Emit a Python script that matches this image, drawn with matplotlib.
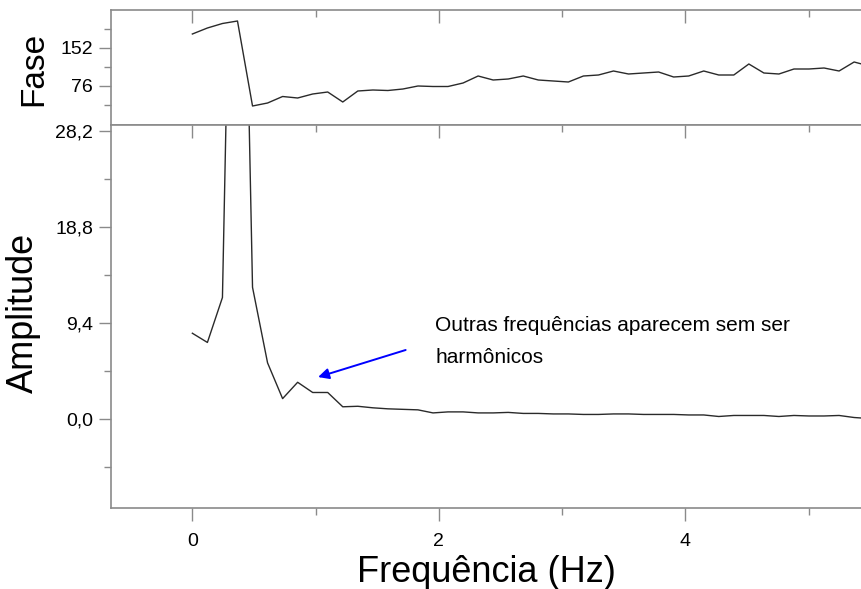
import matplotlib
matplotlib.use("Agg")
import matplotlib.pyplot as plt
from matplotlib.ticker import FixedLocator, FuncFormatter

plt.rcParams['font.family'] = ['Liberation Sans', 'DejaVu Sans']

# frequency bins (Hz)
freq = [0.000, 0.122, 0.244, 0.366, 0.488, 0.610, 0.732, 0.854, 0.976, 1.098,
        1.220, 1.342, 1.464, 1.586, 1.708, 1.830, 1.952, 2.074, 2.196, 2.318,
        2.440, 2.562, 2.684, 2.806, 2.928, 3.050, 3.172, 3.294, 3.416, 3.538,
        3.660, 3.782, 3.904, 4.026, 4.148, 4.270, 4.392, 4.514, 4.636, 4.758,
        4.880, 5.002, 5.124, 5.246, 5.368, 5.490]

# phase (top panel)
fase = [180, 192, 201, 206, 36, 42, 55, 52, 60, 64,
        44, 66, 68, 67, 70, 76, 75, 75, 82, 96,
        88, 90, 96, 88, 86, 84, 96, 98, 106, 100,
        102, 104, 94, 96, 106, 98, 98, 120, 102, 100,
        110, 110, 112, 106, 124, 116]

# amplitude (bottom panel)
amplitude = [8.4, 7.5, 11.9, 85.0, 12.9, 5.5, 2.0, 3.6, 2.6, 2.6,
             1.2, 1.25, 1.1, 1.0, 0.95, 0.9, 0.6, 0.7, 0.7, 0.6,
             0.6, 0.65, 0.55, 0.55, 0.5, 0.5, 0.45, 0.45, 0.5, 0.5,
             0.45, 0.45, 0.45, 0.4, 0.4, 0.25, 0.35, 0.35, 0.35, 0.25,
             0.35, 0.3, 0.3, 0.35, 0.15, 0.05]

fase_ticks = [76, 152]
fase_minor = [38, 114, 190]
amp_ticks = [0.0, 9.4, 18.8, 28.2]
amp_minor = [-4.7, 4.7, 14.1, 23.5]
x_ticks = [0, 2, 4]
x_minor = [1, 3, 5]

W, H = 861, 589
fig = plt.figure(figsize=(W / 100, H / 100), dpi=100)

left = 111 / W
width = (863 - 111) / W
ax_top = fig.add_axes([left, 1 - 125 / H, width, 115 / H])
ax_bot = fig.add_axes([left, 1 - 508 / H, width, 383 / H], sharex=ax_top)

spine_color = '#8a8a8a'
line_color = '#2a2a2a'

for ax in (ax_top, ax_bot):
    for s in ax.spines.values():
        s.set_color(spine_color)
        s.set_linewidth(1.2)
    ax.tick_params(which='both', color=spine_color, width=1.0,
                   labelsize=14, labelcolor='black')
    ax.tick_params(axis='y', which='major', length=9, pad=4)
    ax.tick_params(axis='y', which='minor', length=5)
    ax.tick_params(axis='x', which='major', length=9)
    ax.tick_params(axis='x', which='minor', length=5)
    ax.tick_params(top=True, right=True, which='both')
    ax.xaxis.set_major_locator(FixedLocator(x_ticks))
    ax.xaxis.set_minor_locator(FixedLocator(x_minor))

# top panel: phase
ax_top.plot(freq, fase, color=line_color, lw=1.0)
ax_top.set_ylim(-2, 228)
ax_top.yaxis.set_major_locator(FixedLocator(fase_ticks))
ax_top.yaxis.set_minor_locator(FixedLocator(fase_minor))
ax_top.tick_params(axis='x', which='both', direction='in', labelbottom=False,
                   bottom=False)
ax_top.tick_params(axis='y', which='both', direction='out')
ax_top.tick_params(axis='y', which='both', right=True)

# bottom panel: amplitude
ax_bot.plot(freq, amplitude, color=line_color, lw=1.0)
ax_bot.set_xlim(-0.66, 5.44)
ax_bot.set_ylim(-8.71, 28.79)
ax_bot.yaxis.set_major_locator(FixedLocator(amp_ticks))
ax_bot.yaxis.set_minor_locator(FixedLocator(amp_minor))
ax_bot.yaxis.set_major_formatter(FuncFormatter(lambda v, p: f"{v:.1f}".replace('.', ',')))
ax_bot.tick_params(axis='x', which='both', direction='out', pad=9)
ax_bot.tick_params(axis='y', which='both', direction='out')

# inward ticks on the top and right sides
for ax in (ax_top, ax_bot):
    ax.xaxis.set_tick_params(which='both', top=True)
    for t in ax.xaxis.get_major_ticks() + ax.xaxis.get_minor_ticks():
        t.tick2line.set_marker(3)  # tick down from top spine
    for t in ax.yaxis.get_major_ticks() + ax.yaxis.get_minor_ticks():
        t.tick2line.set_marker(1)  # tick left from right spine

# annotation
ax_bot.annotate('', xy=(1.02, 4.11), xytext=(1.73, 6.76),
                arrowprops=dict(arrowstyle='-|>', color='#0000ff', lw=1.4,
                                mutation_scale=16, shrinkA=0, shrinkB=0))
ax_bot.text(1.97, 5.48, 'Outras frequências aparecem sem ser\nharmônicos',
            fontsize=15, ha='left', va='baseline', linespacing=1.9)

# axis titles
fig.text(42 / W, 1 - 69 / H, 'Fase', rotation=90, fontsize=24,
         ha='center', va='baseline', rotation_mode='anchor')
fig.text(33 / W, 1 - 313 / H, 'Amplitude', rotation=90, fontsize=26,
         ha='center', va='baseline', rotation_mode='anchor')
fig.text(486 / W, 1 - 582 / H, 'Frequência (Hz)', fontsize=26,
         ha='center', va='baseline')

fig.savefig('out.png', dpi=100)
